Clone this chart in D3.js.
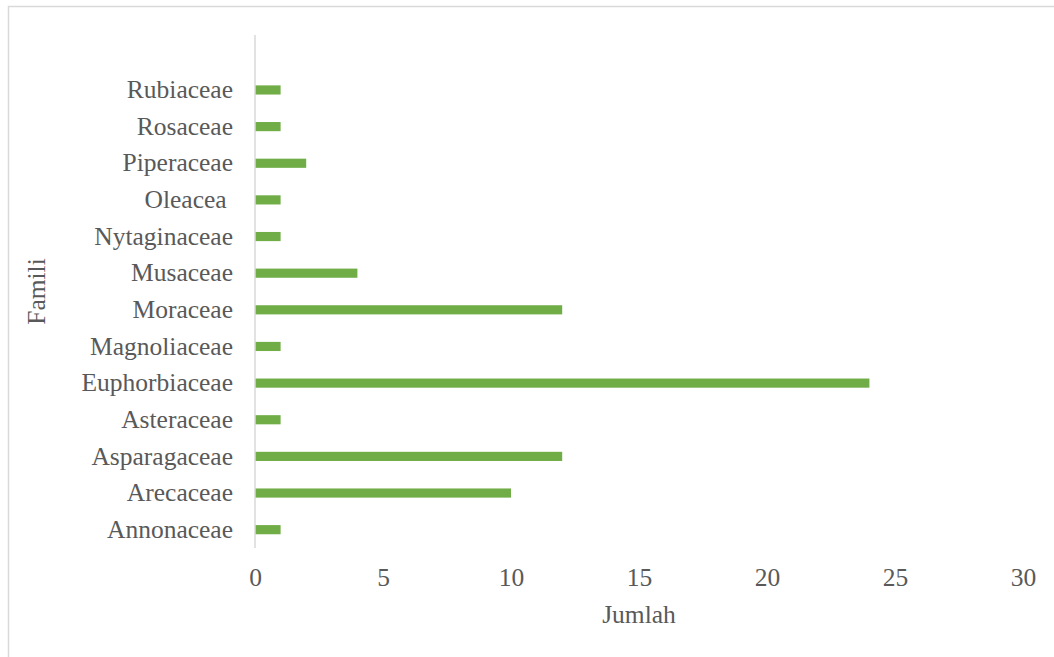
<!DOCTYPE html>
<html>
<head>
<meta charset="utf-8">
<script src="https://cdn.jsdelivr.net/npm/d3@7"></script>
<style>
  body { margin: 0; background: #fff; }
  svg text { font-family: "Liberation Serif", "Times New Roman", serif; fill: #595959; white-space: pre; }
</style>
</head>
<body>
<svg id="chart" width="1054" height="657"></svg>
<script>
// Jumlah per famili (bottom to top as drawn)
var families = ["Annonaceae", "Arecaceae", "Asparagaceae", "Asteraceae", "Euphorbiaceae",
                "Magnoliaceae", "Moraceae", "Musaceae", "Nytaginaceae", "Oleacea ",
                "Piperaceae", "Rosaceae", "Rubiaceae"];
var counts   = [1, 10, 12, 1, 24, 1, 12, 4, 1, 1, 2, 1, 1];
var xTicks   = [0, 5, 10, 15, 20, 25, 30];

var svg = d3.select("#chart");

// chart frame (only top and left edges visible)
svg.append("rect")
   .attr("x", 8.5).attr("y", 6.5)
   .attr("width", 1100).attr("height", 700)
   .attr("fill", "none")
   .attr("stroke", "#d9d9d9")
   .attr("stroke-width", 1.5);

var plot = { left: 255, right: 1023, top: 35, bottom: 548 };

var x = d3.scaleLinear().domain([0, 30]).range([plot.left, plot.right]);

// one empty slot on top, like the original
var y = d3.scaleBand()
          .domain(families.concat([""]))
          .range([plot.bottom, plot.top])
          .paddingInner(0.75)
          .paddingOuter(0.375);

var data = families.map(function(f, i) { return { name: f, value: counts[i] }; });

// bars
svg.append("g").selectAll("rect")
   .data(data).enter().append("rect")
   .attr("x", x(0))
   .attr("y", function(d) { return y(d.name); })
   .attr("width", function(d) { return x(d.value) - x(0); })
   .attr("height", y.bandwidth())
   .attr("fill", "#70ad47");

// category axis
var yAxis = svg.append("g")
   .attr("transform", "translate(" + plot.left + ",0)")
   .call(d3.axisLeft(y).tickSize(0).tickPadding(22));
yAxis.select(".domain").attr("stroke", "#d9d9d9").attr("stroke-width", 1.5)
     .attr("d", "M0," + plot.top + "V" + plot.bottom);
yAxis.selectAll("text").attr("font-size", 25.5).attr("fill", "#595959")
     .attr("dy", "0.32em");

// value axis (labels only)
var xAxis = svg.append("g")
   .attr("transform", "translate(0," + plot.bottom + ")")
   .call(d3.axisBottom(x).tickValues(xTicks).tickSize(0).tickPadding(20));
xAxis.select(".domain").remove();
xAxis.selectAll("text").attr("font-size", 25.5).attr("fill", "#595959")
     .attr("dy", "0.71em");

// axis titles
svg.append("text")
   .attr("x", (plot.left + plot.right) / 2)
   .attr("y", 623)
   .attr("text-anchor", "middle")
   .attr("font-size", 25.5)
   .text("Jumlah");

svg.append("text")
   .attr("transform", "translate(45," + (plot.top + plot.bottom) / 2 + ") rotate(-90)")
   .attr("text-anchor", "middle")
   .attr("font-size", 25.5)
   .text("Famili");
</script>
</body>
</html>
